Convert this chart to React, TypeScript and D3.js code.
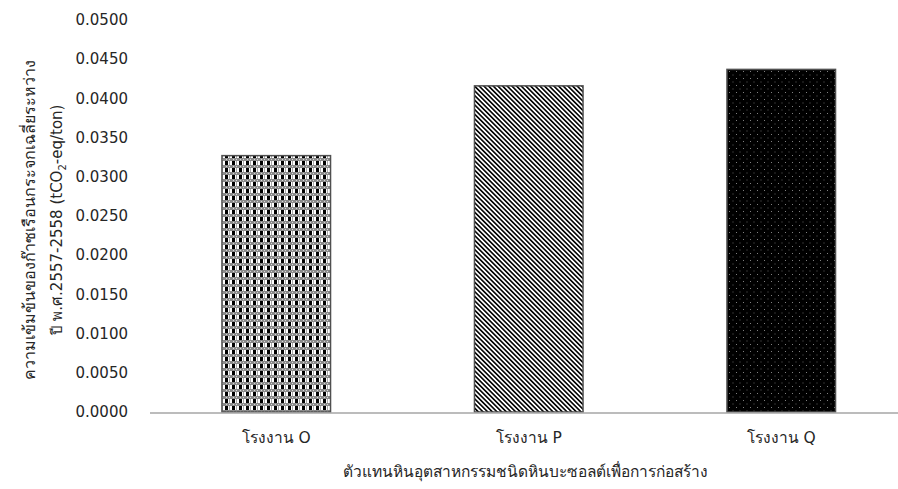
import React, { useEffect, useRef } from "react";
import * as d3 from "d3";

const categories = ["โรงงาน O", "โรงงาน P", "โรงงาน Q"];
const values = [0.0327, 0.0416, 0.0437];
const yTicks = [0, 0.005, 0.01, 0.015, 0.02, 0.025, 0.03, 0.035, 0.04, 0.045, 0.05];
const patternIds = ["patO", "patP", "patQ"];
const xTitle = "ตัวแทนหินอุตสาหกรรมชนิดหินบะซอลต์เพื่อการก่อสร้าง";
const yTitle1 = "ความเข้มข้นของก๊าซเรือนกระจกเฉลี่ยระหว่าง";
const yTitle2a = "ปี พ.ศ.2557-2558 (tCO";
const yTitle2sub = "2";
const yTitle2b = "-eq/ton)";

const W = 898;
const H = 489;
const FONT = "Tahoma, 'DejaVu Sans', 'Noto Sans', sans-serif";

export default function App() {
  const ref = useRef<SVGSVGElement | null>(null);

  useEffect(() => {
    const svg = d3.select(ref.current);
    svg.selectAll("*").remove();

    const x0 = 150;
    const bandW = 252.5;
    const y = d3.scaleLinear().domain([0, 0.05]).range([412, 20]);
    const x = d3
      .scaleBand<string>()
      .domain(categories)
      .range([x0, x0 + bandW * categories.length])
      .paddingInner(0.57)
      .paddingOuter(0.285);

    const defs = svg.append("defs");
    // O: checker / grid
    const pO = defs
      .append("pattern")
      .attr("id", "patO")
      .attr("patternUnits", "userSpaceOnUse")
      .attr("width", 7)
      .attr("height", 7);
    pO.append("rect").attr("width", 7).attr("height", 7).attr("fill", "#ffffff");
    pO.append("rect").attr("x", 0).attr("y", 4).attr("width", 7).attr("height", 3).attr("fill", "#8a8a8a");
    pO.append("rect").attr("x", 2).attr("y", 5).attr("width", 1).attr("height", 1).attr("fill", "#d8d8d8");
    pO.append("rect").attr("x", 5).attr("y", 5).attr("width", 1).attr("height", 1).attr("fill", "#d8d8d8");
    pO.append("rect").attr("x", 1).attr("y", 0).attr("width", 3).attr("height", 4).attr("fill", "#000000");
    pO.append("rect").attr("x", 5).attr("y", 0).attr("width", 1).attr("height", 4).attr("fill", "#a8a8a8");

    // P: downward diagonal (\\\)
    const pP = defs
      .append("pattern")
      .attr("id", "patP")
      .attr("patternUnits", "userSpaceOnUse")
      .attr("width", 3.3)
      .attr("height", 3.3)
      .attr("patternTransform", "rotate(-45)");
    pP.append("rect").attr("width", 3.3).attr("height", 3.3).attr("fill", "#ffffff");
    pP.append("rect").attr("x", 0).attr("y", 0).attr("width", 1.6).attr("height", 3.3).attr("fill", "#000000");

    // Q: black with small dots
    const pQ = defs
      .append("pattern")
      .attr("id", "patQ")
      .attr("patternUnits", "userSpaceOnUse")
      .attr("width", 7)
      .attr("height", 7);
    pQ.append("rect").attr("width", 7).attr("height", 7).attr("fill", "#000000");
    pQ.append("rect").attr("x", 1).attr("y", 1).attr("width", 1).attr("height", 1).attr("fill", "#808080");
    pQ.append("rect").attr("x", 4.5).attr("y", 4.5).attr("width", 1).attr("height", 1).attr("fill", "#606060");

    // bars
    svg
      .append("g")
      .selectAll("rect")
      .data(values)
      .join("rect")
      .attr("x", (_d, i) => x(categories[i]) as number)
      .attr("y", (d) => y(d))
      .attr("width", x.bandwidth())
      .attr("height", (d) => y(0) - y(d))
      .attr("fill", (_d, i) => `url(#${patternIds[i]})`)
      .attr("stroke", "#505050")
      .attr("stroke-width", 1.5);

    // baseline
    svg
      .append("line")
      .attr("x1", x0)
      .attr("x2", W)
      .attr("y1", y(0) + 1)
      .attr("y2", y(0) + 1)
      .attr("stroke", "#a6a6a6")
      .attr("stroke-width", 1.5);

    // y tick labels
    svg
      .append("g")
      .selectAll("text")
      .data(yTicks)
      .join("text")
      .attr("x", 128)
      .attr("y", (d) => y(d))
      .attr("dy", "0.35em")
      .attr("text-anchor", "end")
      .attr("font-family", FONT)
      .attr("font-size", 15)
      .attr("fill", "#262626")
      .text((d) => d3.format(".4f")(d));

    // x labels
    svg
      .append("g")
      .selectAll("text")
      .data(categories)
      .join("text")
      .attr("x", (d) => (x(d) as number) + x.bandwidth() / 2)
      .attr("y", 443)
      .attr("text-anchor", "middle")
      .attr("font-family", FONT)
      .attr("font-size", 15.5)
      .attr("fill", "#262626")
      .text((d) => d);

    // x title
    svg
      .append("text")
      .attr("x", 525)
      .attr("y", 477)
      .attr("text-anchor", "middle")
      .attr("font-family", FONT)
      .attr("font-size", 15.5)
      .attr("fill", "#262626")
      .text(xTitle);

    // y title
    const cy = 220;
    const gt = svg.append("g").attr("transform", `translate(0,${cy}) rotate(-90)`);
    gt.append("text")
      .attr("x", 0)
      .attr("y", 35)
      .attr("text-anchor", "middle")
      .attr("font-family", FONT)
      .attr("font-size", 16)
      .attr("fill", "#262626")
      .text(yTitle1);
    const t2 = gt
      .append("text")
      .attr("x", 0)
      .attr("y", 62)
      .attr("text-anchor", "middle")
      .attr("font-family", FONT)
      .attr("font-size", 15)
      .attr("fill", "#262626");
    t2.append("tspan").text(yTitle2a);
    t2.append("tspan").attr("font-size", 10).attr("dy", 4).text(yTitle2sub);
    t2.append("tspan").attr("dy", -4).text(yTitle2b);
  }, []);

  return (
    <div style={{ position: "absolute", left: 0, top: 0, width: W, height: H, background: "#fff" }}>
      <svg ref={ref} width={W} height={H} style={{ display: "block" }} />
    </div>
  );
}
